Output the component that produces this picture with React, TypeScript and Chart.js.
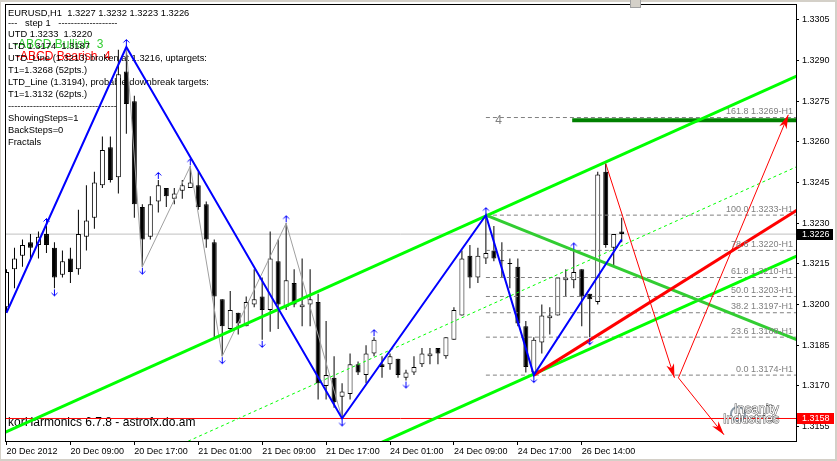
import React, { useEffect, useRef } from 'react';
import { Chart, registerables } from 'chart.js';

Chart.register(...registerables);

const FONT = '"Liberation Sans", Arial, sans-serif';

// ---------- data (EURUSD H1, bar 0 = 20 Dec 2012 01:00) ----------
const OPEN = [
  1.3199, 1.3213, 1.3218, 1.3223, 1.3222, 1.3226, 1.3221, 1.3211, 1.3217, 1.3213,
  1.3225, 1.3232, 1.3244, 1.3258, 1.3247, 1.3286, 1.3275, 1.3236, 1.3225, 1.3238,
  1.3243, 1.3239, 1.3242, 1.3243, 1.3244, 1.3237, 1.3223, 1.3202, 1.3191, 1.3197,
  1.3192, 1.3200, 1.3203, 1.3198, 1.3216, 1.3199, 1.3208, 1.3199, 1.3200, 1.3201,
  1.3170, 1.3173, 1.3166, 1.3167, 1.3178, 1.3174, 1.3182, 1.3178, 1.3178, 1.3180,
  1.3173, 1.3175, 1.3178, 1.3181, 1.3184, 1.3181, 1.3187, 1.3196, 1.3218, 1.3210,
  1.3217, 1.3220, 1.3216, 1.3215, 1.3214, 1.3192, 1.3175, 1.3186, 1.3195, 1.3196,
  1.3209, 1.3209, 1.3213, 1.3204, 1.3201, 1.3249, 1.3221, 1.3227,
];
const HIGH = [
  1.3213, 1.3221, 1.3224, 1.3226, 1.3227, 1.3229, 1.3223, 1.3220, 1.3221, 1.3235,
  1.3244, 1.3249, 1.3262, 1.3262, 1.3294, 1.3295, 1.3277, 1.3237, 1.3240, 1.3246,
  1.3243, 1.3243, 1.3246, 1.3251, 1.3249, 1.3238, 1.3224, 1.3202, 1.3205, 1.3197,
  1.3203, 1.3213, 1.3210, 1.3227, 1.3224, 1.3230, 1.3213, 1.3217, 1.3213, 1.3204,
  1.3194, 1.3181, 1.3171, 1.3182, 1.3179, 1.3185, 1.3188, 1.3181, 1.3182, 1.3180,
  1.3176, 1.3181, 1.3184, 1.3184, 1.3184, 1.3188, 1.3199, 1.3220, 1.3222, 1.3221,
  1.3233, 1.3229, 1.3223, 1.3217, 1.3217, 1.3194, 1.3188, 1.3200, 1.3199, 1.3210,
  1.3213, 1.3220, 1.3213, 1.3204, 1.3249, 1.3252, 1.3226, 1.3232,
];
const LOW = [
  1.3197, 1.3206, 1.3214, 1.3217, 1.3217, 1.3219, 1.3206, 1.3210, 1.3208, 1.3211,
  1.3220, 1.3228, 1.3243, 1.3245, 1.3241, 1.3263, 1.3232, 1.3214, 1.3224, 1.3234,
  1.3236, 1.3237, 1.3239, 1.3243, 1.3235, 1.3221, 1.3188, 1.3181, 1.3190, 1.3189,
  1.3192, 1.3199, 1.3187, 1.3190, 1.3191, 1.3198, 1.3199, 1.3192, 1.3192, 1.3165,
  1.3165, 1.3162, 1.3158, 1.3165, 1.3174, 1.3171, 1.3181, 1.3173, 1.3176, 1.3173,
  1.3172, 1.3174, 1.3177, 1.3178, 1.3178, 1.3180, 1.3187, 1.3196, 1.3206, 1.3208,
  1.3215, 1.3216, 1.3210, 1.3206, 1.3192, 1.3175, 1.3174, 1.3182, 1.3189, 1.3196,
  1.3203, 1.3206, 1.3192, 1.3188, 1.3200, 1.3221, 1.3214, 1.3223,
];
const CLOSE = [
  1.3212, 1.3217, 1.3222, 1.3221, 1.3225, 1.3222, 1.3210, 1.3216, 1.3212, 1.3226,
  1.3231, 1.3245, 1.3257, 1.3246, 1.3285, 1.3274, 1.3237, 1.3224, 1.3237, 1.3244,
  1.3240, 1.3241, 1.3244, 1.3245, 1.3236, 1.3224, 1.3203, 1.3192, 1.3198, 1.3193,
  1.3201, 1.3202, 1.3198, 1.3217, 1.3200, 1.3209, 1.3200, 1.3200, 1.3202, 1.3171,
  1.3174, 1.3164, 1.3168, 1.3178, 1.3175, 1.3182, 1.3187, 1.3177, 1.3181, 1.3174,
  1.3175, 1.3177, 1.3182, 1.3182, 1.3182, 1.3188, 1.3198, 1.3217, 1.3210, 1.3218,
  1.3219, 1.3217, 1.3216, 1.3215, 1.3193, 1.3177, 1.3187, 1.3196, 1.3196, 1.3210,
  1.3210, 1.3212, 1.3203, 1.3202, 1.3248, 1.3222, 1.3226, 1.3226,
];

const X_TICKS = [0, 8, 16, 24, 32, 40, 48, 56, 64, 72];
const X_LABELS = [
  '20 Dec 2012', '20 Dec 09:00', '20 Dec 17:00', '21 Dec 01:00', '21 Dec 09:00',
  '21 Dec 17:00', '24 Dec 01:00', '24 Dec 09:00', '24 Dec 17:00', '26 Dec 14:00',
];
const Y_TICKS = [1.3155, 1.317, 1.3185, 1.32, 1.3215, 1.323, 1.3245, 1.326, 1.3275, 1.329, 1.3305];

// fractals (bar indices)
const FRACTAL_UP = [5, 15, 19, 23, 35, 46, 60, 71];
const FRACTAL_DOWN = [6, 17, 27, 32, 42, 50, 66, 73];

// main zigzag (blue) and minor zigzag (grey)
const ZZ_X = [0, 15, 42, 60, 66, 77];
const ZZ_Y = [1.3197, 1.3295, 1.3158, 1.3233, 1.3174, 1.3224];
const GZ_X = [15, 17, 23, 27, 35, 42];
const GZ_Y = [1.3295, 1.3214, 1.3251, 1.3181, 1.323, 1.3158];

// channel and trend lines: [x0, y0, x1, y1]
const UTD_CHANNEL = [-1, 1.31518, 99, 1.32844];
const LTD_CHANNEL = [40, 1.314, 99, 1.3218];
const MID_CHANNEL = [20, 1.3146, 99, 1.3251];
const UTD_LINE = [60, 1.3233, 99, 1.3187];
const LTD_LINE = [66, 1.3174, 99, 1.3235];

// projection arrows
const ARROW_1 = [75, 1.3252, 83.6, 1.3173];
const ARROW_2 = [84.1, 1.3173, 97.85, 1.327];
const ARROW_3 = [84.1, 1.3173, 89.8, 1.3152];

// fibonacci
const FIB_START = 60;
const FIB_RATIOS = ['0.0', '23.6', '38.2', '50.0', '61.8', '78.6', '100.0', '161.8'];
const FIB_PRICES = [1.3174, 1.3188, 1.3197, 1.3203, 1.321, 1.322, 1.3233, 1.3269];
const TARGET_PRICE = 1.3268;
const TARGET_START = 70.8;

const BID = 1.3226;
const LOW_LINE = 1.3158;

const HEADER_LINES = [
  'EURUSD,H1  1.3227 1.3232 1.3223 1.3226',
  '---   step 1   -------------------',
  'UTD 1.3233  1.3220',
  'LTD 1.3174  1.3187',
  'UTD_Line (1.3213) broken at 1.3216, uptargets:',
  'T1=1.3268 (52pts.)',
  'LTD_Line (1.3194), probable downbreak targets:',
  'T1=1.3132 (62pts.)',
  '-----------------------------------',
  'ShowingSteps=1',
  'BackSteps=0',
  'Fractals',
];

const X_MIN = -0.1875;
const X_MAX = 98.8125;
const Y_MIN = 1.31497;
const Y_MAX = 1.33105;

function seg(a: number[]) {
  return [{ x: a[0], y: a[1] }, { x: a[2], y: a[3] }];
}

function makeArrowImage(up: boolean) {
  const c = document.createElement('canvas');
  c.width = 9;
  c.height = 18;
  const g = c.getContext('2d')!;
  g.strokeStyle = '#0000FF';
  g.lineWidth = 1;
  g.beginPath();
  if (up) {
    g.moveTo(4.5, 1.5); g.lineTo(4.5, 8);
    g.moveTo(1.5, 4.5); g.lineTo(4.5, 1.5); g.lineTo(7.5, 4.5);
  } else {
    g.moveTo(4.5, 10); g.lineTo(4.5, 16.5);
    g.moveTo(1.5, 13.5); g.lineTo(4.5, 16.5); g.lineTo(7.5, 13.5);
  }
  g.stroke();
  return c;
}

const overlayPlugin = {
  id: 'overlay',
  beforeDatasetsDraw(chart: any) {
    const ctx = chart.ctx;
    ctx.save();
    ctx.textBaseline = 'middle';
    ctx.textAlign = 'left';
    // ABCD labels
    ctx.font = `12px ${FONT}`;
    ctx.fillStyle = '#32CD32';
    ctx.fillText('-ABCD Bullish  3', 14, 45);
    ctx.fillStyle = '#FF0000';
    ctx.fillText('-ABCD Bearish  4', 16, 57);
    // header
    const ys = [13.3, 23.5, 34.5, 46.5, 58.5, 70.5, 82.3, 94.3, 106.8, 118.3, 130.3, 142.5];
    ctx.font = `9.35px ${FONT}`;
    ctx.fillStyle = '#000';
    HEADER_LINES.forEach((t, k) => ctx.fillText(t, 8, ys[k]));
    ctx.font = `12px ${FONT}`;
    ctx.fillText('korHarmonics 6.7.8 - astrofx.do.am', 8, 423);
    ctx.restore();
  },
  afterDatasetsDraw(chart: any) {
    const ctx = chart.ctx;
    const xs = chart.scales.x;
    const ysc = chart.scales.y;
    const area = chart.chartArea;
    ctx.save();
    // arrowheads
    chart.data.datasets.forEach((ds: any, di: number) => {
      if (!ds.arrowHead) return;
      const pts = chart.getDatasetMeta(di).data;
      const a = pts[pts.length - 2];
      const b = pts[pts.length - 1];
      const ang = Math.atan2(b.y - a.y, b.x - a.x);
      ctx.save();
      ctx.translate(b.x, b.y);
      ctx.rotate(ang);
      ctx.beginPath();
      ctx.moveTo(0, 0);
      ctx.lineTo(-14, -4);
      ctx.lineTo(-10, 0);
      ctx.lineTo(-14, 4);
      ctx.closePath();
      ctx.fillStyle = ds.borderColor;
      ctx.fill();
      ctx.restore();
    });
    // fib labels
    ctx.font = `9px ${FONT}`;
    ctx.fillStyle = '#808080';
    ctx.textAlign = 'right';
    ctx.textBaseline = 'middle';
    FIB_PRICES.forEach((p, k) => {
      const y = ysc.getPixelForValue(p);
      ctx.fillText(`${FIB_RATIOS[k]} ${p.toFixed(4)}-H1`, area.right - 3, y - 6);
    });
    // pattern number
    ctx.font = `12px ${FONT}`;
    ctx.textAlign = 'center';
    ctx.fillText('4', xs.getPixelForValue(61.6), ysc.getPixelForValue(1.3268));
    ctx.restore();
  },
  afterDraw(chart: any) {
    const ctx = chart.ctx;
    const ysc = chart.scales.y;
    const area = chart.chartArea;
    ctx.save();
    // plot frame (left / top)
    ctx.strokeStyle = '#000';
    ctx.lineWidth = 1;
    ctx.beginPath();
    ctx.moveTo(area.left + 0.5, area.top - 0.5);
    ctx.lineTo(area.left + 0.5, area.bottom);
    ctx.moveTo(area.left, area.top - 0.5);
    ctx.lineTo(area.right + 1, area.top - 0.5);
    ctx.stroke();
    // window frame
    ctx.fillStyle = '#D4D0C8';
    ctx.fillRect(0, 0, 837, 2);
    ctx.fillRect(0, 459, 837, 2);
    ctx.fillRect(835, 0, 2, 461);
    ctx.fillRect(0, 0, 1, 461);
    ctx.fillStyle = '#D4D0C8';
    ctx.fillRect(630, 0, 11, 8);
    ctx.strokeStyle = '#A0A0A0';
    ctx.strokeRect(630.5, -0.5, 10, 8);
    // price boxes
    ctx.font = `9px ${FONT}`;
    ctx.textBaseline = 'middle';
    ctx.textAlign = 'left';
    const yb = ysc.getPixelForValue(BID);
    ctx.fillStyle = '#000';
    ctx.fillRect(797, Math.round(yb) - 5, 36, 11);
    ctx.fillStyle = '#fff';
    ctx.fillText(BID.toFixed(4), 802, yb + 0.5);
    const yr = ysc.getPixelForValue(LOW_LINE);
    ctx.fillStyle = '#FF0000';
    ctx.fillRect(797, Math.round(yr) - 5, 37, 11);
    ctx.fillStyle = '#fff';
    ctx.fillText(LOW_LINE.toFixed(4), 802, yr + 0.5);
    // watermark
    ctx.beginPath();
    ctx.arc(738, 414, 7, 0, Math.PI * 2);
    ctx.strokeStyle = '#8a9aa8';
    ctx.lineWidth = 2;
    ctx.stroke();
    ctx.font = `13px ${FONT}`;
    ctx.lineWidth = 1;
    ctx.strokeStyle = '#505050';
    ctx.fillStyle = '#ffffff';
    ctx.strokeText('Insanity', 734, 409);
    ctx.fillText('Insanity', 734, 409);
    ctx.strokeText('Industries', 723, 419.5);
    ctx.fillText('Industries', 723, 419.5);
    ctx.restore();
  },
};

function lineDs(data: any[], color: string, width: number, order: number, extra: any = {}) {
  return {
    type: 'line',
    data,
    borderColor: color,
    backgroundColor: color,
    borderWidth: width,
    pointRadius: 0,
    pointHoverRadius: 0,
    fill: false,
    tension: 0,
    order,
    clip: 0,
    ...extra,
  };
}

export default function App() {
  const ref = useRef<HTMLCanvasElement | null>(null);
  useEffect(() => {
    if (!ref.current) return;
    const idx = OPEN.map((_, i) => i);
    const upImg = makeArrowImage(true);
    const downImg = makeArrowImage(false);
    const datasets: any[] = [
      // horizontal price lines
      lineDs([{ x: X_MIN, y: BID }, { x: X_MAX, y: BID }], '#C0C0C0', 1, 20),
      lineDs([{ x: X_MIN, y: LOW_LINE }, { x: X_MAX, y: LOW_LINE }], '#FF0000', 1, 19),
      // candles
      {
        type: 'bar',
        data: idx.map((i) => ({ x: i, y: [LOW[i], HIGH[i]] })),
        backgroundColor: '#000',
        borderWidth: 0,
        barThickness: 1,
        grouped: false,
        inflateAmount: 0,
        order: 18,
        clip: 0,
      },
      {
        type: 'bar',
        data: idx.map((i) => ({ x: i, y: [OPEN[i], CLOSE[i]] })),
        backgroundColor: idx.map((i) => (CLOSE[i] >= OPEN[i] ? '#FFFFFF' : '#000000')),
        borderColor: '#000',
        borderWidth: 1,
        borderSkipped: false,
        barThickness: 5,
        grouped: false,
        minBarLength: 1,
        inflateAmount: 0,
        order: 17,
        clip: 0,
      },
      // fibonacci levels
      ...FIB_PRICES.map((p) =>
        lineDs([{ x: FIB_START, y: p }, { x: X_MAX + 1, y: p }], '#808080', 1, 16, { borderDash: [4, 3] })
      ),
      lineDs([{ x: TARGET_START, y: TARGET_PRICE }, { x: X_MAX + 1, y: TARGET_PRICE }], '#008000', 4, 15),
      // minor zigzag
      lineDs(GZ_X.map((x, k) => ({ x, y: GZ_Y[k] })), '#A0A0A0', 1, 14),
      // channel
      lineDs(seg(MID_CHANNEL), '#00FF00', 1, 13, { borderDash: [3, 3] }),
      lineDs(seg(UTD_CHANNEL), '#00FF00', 3, 12),
      lineDs(seg(LTD_CHANNEL), '#00FF00', 3, 12),
      lineDs(seg(UTD_LINE), '#32CD32', 3, 11),
      lineDs(seg(LTD_LINE), '#FF0000', 3, 10),
      // main zigzag
      lineDs(ZZ_X.map((x, k) => ({ x, y: ZZ_Y[k] })), '#0000FF', 2, 9),
      // projections
      lineDs(seg(ARROW_1), '#FF0000', 1, 8, { arrowHead: true }),
      lineDs(seg(ARROW_2), '#FF0000', 1, 8, { arrowHead: true }),
      lineDs(seg(ARROW_3), '#FF0000', 1, 8, { arrowHead: true }),
      // fractals
      {
        type: 'scatter',
        data: FRACTAL_UP.map((i) => ({ x: i, y: HIGH[i] })),
        pointStyle: upImg,
        pointRadius: 4,
        order: 1,
        clip: false,
      },
      {
        type: 'scatter',
        data: FRACTAL_DOWN.map((i) => ({ x: i, y: LOW[i] })),
        pointStyle: downImg,
        pointRadius: 4,
        order: 1,
        clip: false,
      },
    ];

    const chart = new Chart(ref.current, {
      type: 'bar',
      data: { datasets },
      options: {
        animation: false,
        responsive: false,
        maintainAspectRatio: false,
        devicePixelRatio: 1,
        events: [],
        layout: { padding: { left: 4, top: 4, right: 0, bottom: 0 } },
        plugins: { legend: { display: false }, tooltip: { enabled: false }, title: { display: false } },
        scales: {
          x: {
            type: 'linear',
            position: 'bottom',
            min: X_MIN,
            max: X_MAX,
            offset: false,
            grid: { display: true, offset: false, drawOnChartArea: false, drawTicks: true, tickLength: 4, color: '#000', tickColor: '#000' },
            border: { display: true, color: '#000' },
            ticks: {
              autoSkip: false,
              maxRotation: 0,
              minRotation: 0,
              align: 'start',
              padding: 1,
              color: '#000',
              font: { family: FONT, size: 9 },
              callback: (v: any) => {
                const k = X_TICKS.indexOf(Number(v));
                return k >= 0 ? X_LABELS[k] : '';
              },
            },
            afterBuildTicks: (s: any) => {
              s.ticks = X_TICKS.map((v) => ({ value: v }));
            },
            afterFit: (s: any) => {
              s.height = 20;
              s.paddingLeft = 0;
              s.paddingRight = 0;
              s.paddingTop = 0;
              s.paddingBottom = 0;
            },
          },
          y: {
            type: 'linear',
            position: 'right',
            min: Y_MIN,
            max: Y_MAX,
            beginAtZero: false,
            grid: { display: true, drawOnChartArea: false, drawTicks: true, tickLength: 3, color: '#000', tickColor: '#000' },
            border: { display: true, color: '#000' },
            ticks: {
              autoSkip: false,
              padding: 3,
              color: '#000',
              font: { family: FONT, size: 9 },
              callback: (v: any) => Number(v).toFixed(4),
            },
            afterBuildTicks: (s: any) => {
              s.ticks = Y_TICKS.map((v) => ({ value: v }));
            },
            afterFit: (s: any) => {
              s.width = 41;
              s.paddingLeft = 0;
              s.paddingRight = 0;
              s.paddingTop = 0;
              s.paddingBottom = 0;
            },
          },
        },
      } as any,
      plugins: [overlayPlugin],
    } as any);
    return () => chart.destroy();
  }, []);

  return (
    <div style={{ position: 'fixed', left: 0, top: 0, width: 837, height: 461, background: '#fff' }}>
      <canvas ref={ref} width={837} height={461} style={{ display: 'block', width: 837, height: 461 }} />
    </div>
  );
}
